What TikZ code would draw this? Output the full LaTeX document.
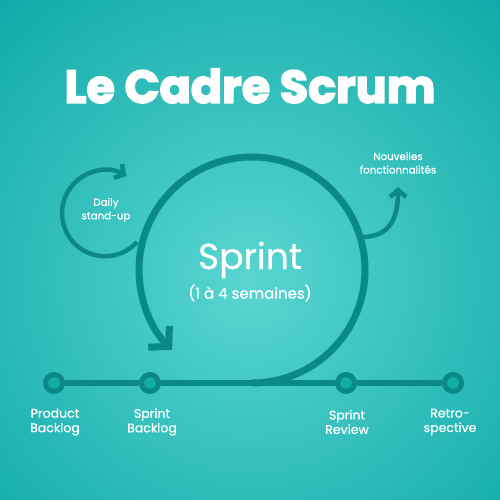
\documentclass[tikz,border=0pt]{standalone}
\usepackage{fontspec}
\setmainfont{Poppins}
\newfontfamily\medfont{Poppins}[FakeBold=0.6]
\newfontfamily\titlefont{Poppins}[BoldFeatures={FakeBold=3.5}]
\usetikzlibrary{arrows.meta}
\definecolor{bgout}{HTML}{10ABA9}
\definecolor{bgin}{HTML}{5AD5D1}
\definecolor{ink}{HTML}{0B8987}
\definecolor{ringfill}{HTML}{14ACA9}
\begin{document}
\begin{tikzpicture}[x=1pt,y=1pt,
  flow/.style={draw=ink, line width=7pt},
  thinflow/.style={draw=ink, line width=4.5pt},
  ring/.style={circle, draw=ink, fill=ringfill, line width=5pt, minimum size=17pt, inner sep=0pt},
  lbl/.style={text=white, align=center, font=\medfont\fontsize{12.5}{14.5}\selectfont},
  small/.style={text=white, align=center, font=\medfont\fontsize{10.3}{13.5}\selectfont}]
\useasboundingbox (0,0) rectangle (500,500);
\clip (0,0) rectangle (500,500);
\shade[inner color=bgin, outer color=bgout] (-120,-150) rectangle (620,590);

% title
\node[text=white, font=\titlefont\bfseries\fontsize{46}{50}\selectfont] (title) at (250,414) {Le Cadre Scrum};

% timeline
\node[ring] (pb) at (54,117) {};
\node[ring] (sb) at (150,117) {};
\node[ring] (sr) at (346,117) {};
\node[ring] (rs) at (453,117) {};
\draw[flow, line width=6.5pt] (pb) -- (sb);
\draw[flow, line width=6.5pt] (sb) -- (sr);
\draw[flow, line width=6.5pt] (sr) -- (rs);

\node[lbl] (pbl) at (55,78) {Product\\Backlog};
\node[lbl] (sbl) at (152,78) {Sprint\\Backlog};
\node[lbl] (srl) at (347,78) {Sprint\\Review};
\node[lbl] (rsl) at (450,78) {Retro-\\spective};

% sprint loop
\coordinate (sc) at (252,230);
\draw[flow, -{Straight Barb[length=14pt,width=30pt]}] (252,117) arc[start angle=-90, end angle=225, radius=113];

\node[text=white, font=\medfont\fontsize{36}{40}\selectfont] (sprint) at (250,240) {Sprint};
\node[text=white, font=\medfont\fontsize{15}{17}\selectfont] (dur) at (250,207) {(1 à 4 semaines)};

% daily loop
\draw[thinflow, -{Straight Barb[length=7pt,width=16pt]}] (137,258) arc[start angle=-42, end angle=-300, radius=43];
\node[small] (daily) at (106,290) {Daily\\stand-up};

% nouvelles fonctionnalites
\node[small] (nf) at (398,337) {Nouvelles\\fonctionnalités};
\draw[thinflow, -{Straight Barb[length=7pt,width=16pt]}] (362,263) .. controls (392,263) and (398,285) .. (398,313);
\end{tikzpicture}
\end{document}
